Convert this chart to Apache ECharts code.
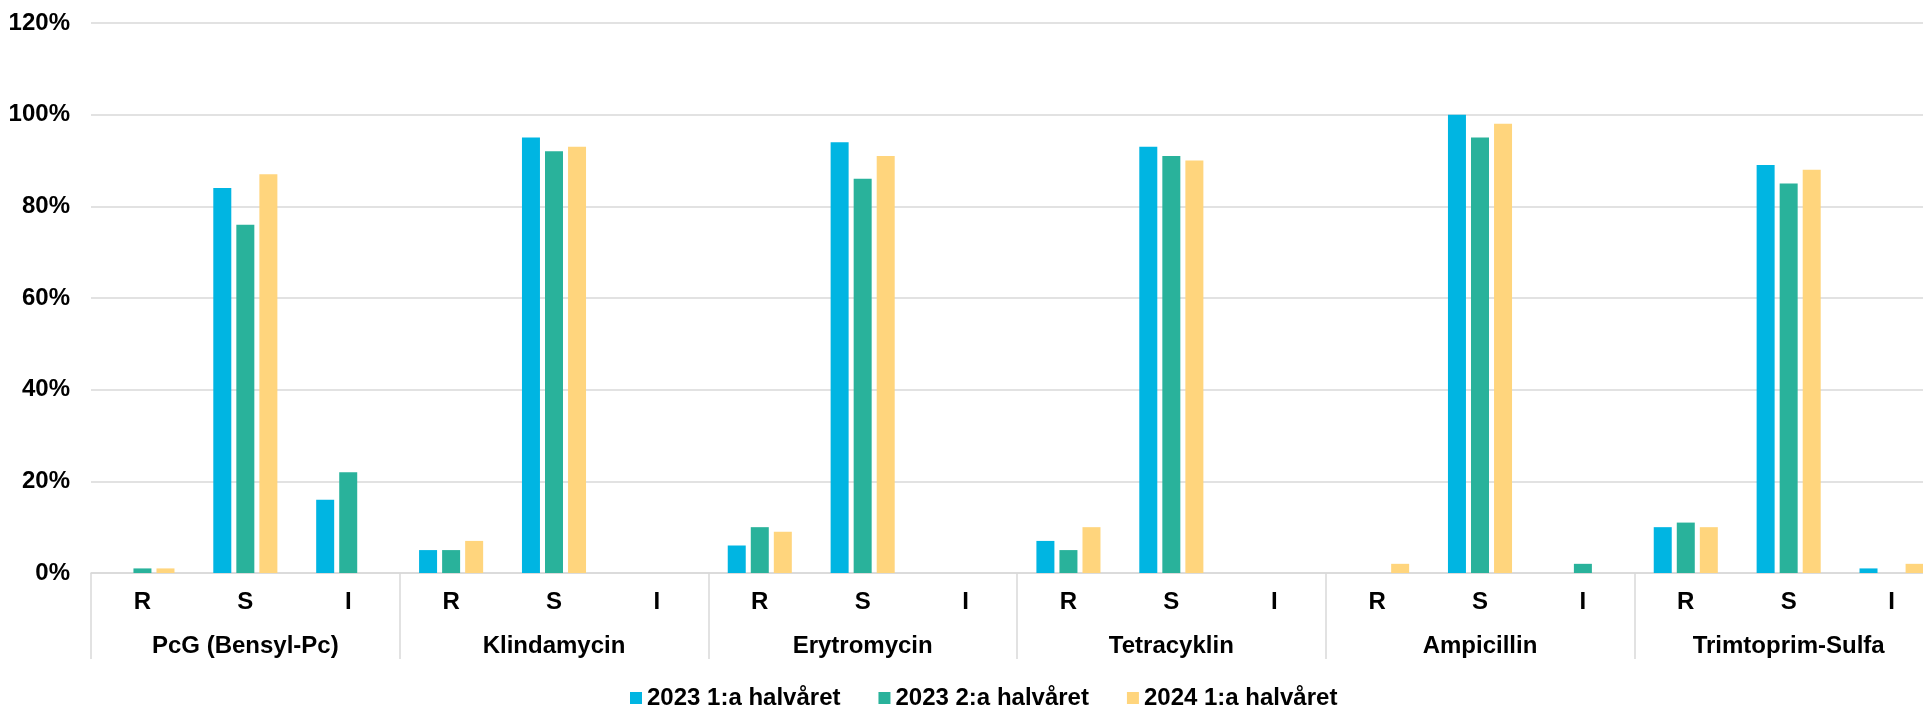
<!DOCTYPE html>
<html>
<head>
<meta charset="utf-8">
<script src="https://cdn.jsdelivr.net/npm/echarts@6/dist/echarts.min.js"></script>
<style>
  html, body { margin: 0; padding: 0; background: #fff; overflow: hidden; }
  /* chart is a bit wider than the window: the original is cut off on the right */
  #chart { width: 1943px; height: 705px; }
</style>
</head>
<body>
<div id="chart"></div>
<script>
const groups = ["PcG (Bensyl-Pc)", "Klindamycin", "Erytromycin", "Tetracyklin", "Ampicillin", "Trimtoprim-Sulfa"];
const subCats = ["R", "S", "I"];
const seriesNames = ["2023 1:a halvåret", "2023 2:a halvåret", "2024 1:a halvåret"];
const colors = ["#00B5E2", "#29B29B", "#FFD57D"];

// values in percent, order: R, S, I for each group
const h1_2023 = [0, 84, 16, 5, 95, 0, 6, 94, 0, 7, 93, 0, 0, 100, 0, 10, 89, 1];
const h2_2023 = [1, 76, 22, 5, 92, 0, 10, 86, 0, 5, 91, 0, 0, 95, 2, 11, 85, 0];
const h1_2024 = [1, 87, 0, 7, 93, 0, 9, 91, 0, 10, 90, 0, 2, 98, 0, 10, 88, 2];

const categories = [];
groups.forEach(() => subCats.forEach(s => categories.push(s)));

const font = { fontFamily: "Liberation Sans, Arial, sans-serif", fontWeight: "bold", fontSize: 24, color: "#000" };
const gridColor = "#d9d9d9";

const myChart = echarts.init(document.getElementById("chart"));
const option = {
  animation: false,
  grid: { left: 91, right: 0, top: 23, bottom: 132, containLabel: false },
  legend: {
    left: 625,
    top: 681,
    icon: "rect",
    itemWidth: 12,
    itemHeight: 12,
    itemGap: 38,
    textStyle: Object.assign({}, font),
    data: seriesNames
  },
  xAxis: [
    {
      type: "category",
      data: categories,
      position: "bottom",
      axisLine: { show: true, lineStyle: { color: gridColor, width: 1.5 } },
      axisTick: { show: false },
      axisLabel: Object.assign({ margin: 17, interval: 0 }, font)
    },
    {
      type: "category",
      data: groups,
      position: "bottom",
      axisLine: { show: false },
      axisTick: { show: true, length: 86, lineStyle: { color: gridColor, width: 1.5 } },
      axisLabel: Object.assign({ margin: 61, interval: 0 }, font)
    }
  ],
  yAxis: {
    type: "value",
    min: 0,
    max: 120,
    interval: 20,
    axisLine: { show: false },
    axisTick: { show: false },
    axisLabel: Object.assign({ margin: 21, formatter: "{value}%" }, font),
    splitLine: { lineStyle: { color: gridColor, width: 1.5 } }
  },
  series: [h1_2023, h2_2023, h1_2024].map((d, i) => ({
    name: seriesNames[i],
    type: "bar",
    xAxisIndex: 0,
    data: d,
    barWidth: 18,
    barGap: "28%",
    itemStyle: { color: colors[i] }
  }))
};
myChart.setOption(option);
</script>
</body>
</html>
